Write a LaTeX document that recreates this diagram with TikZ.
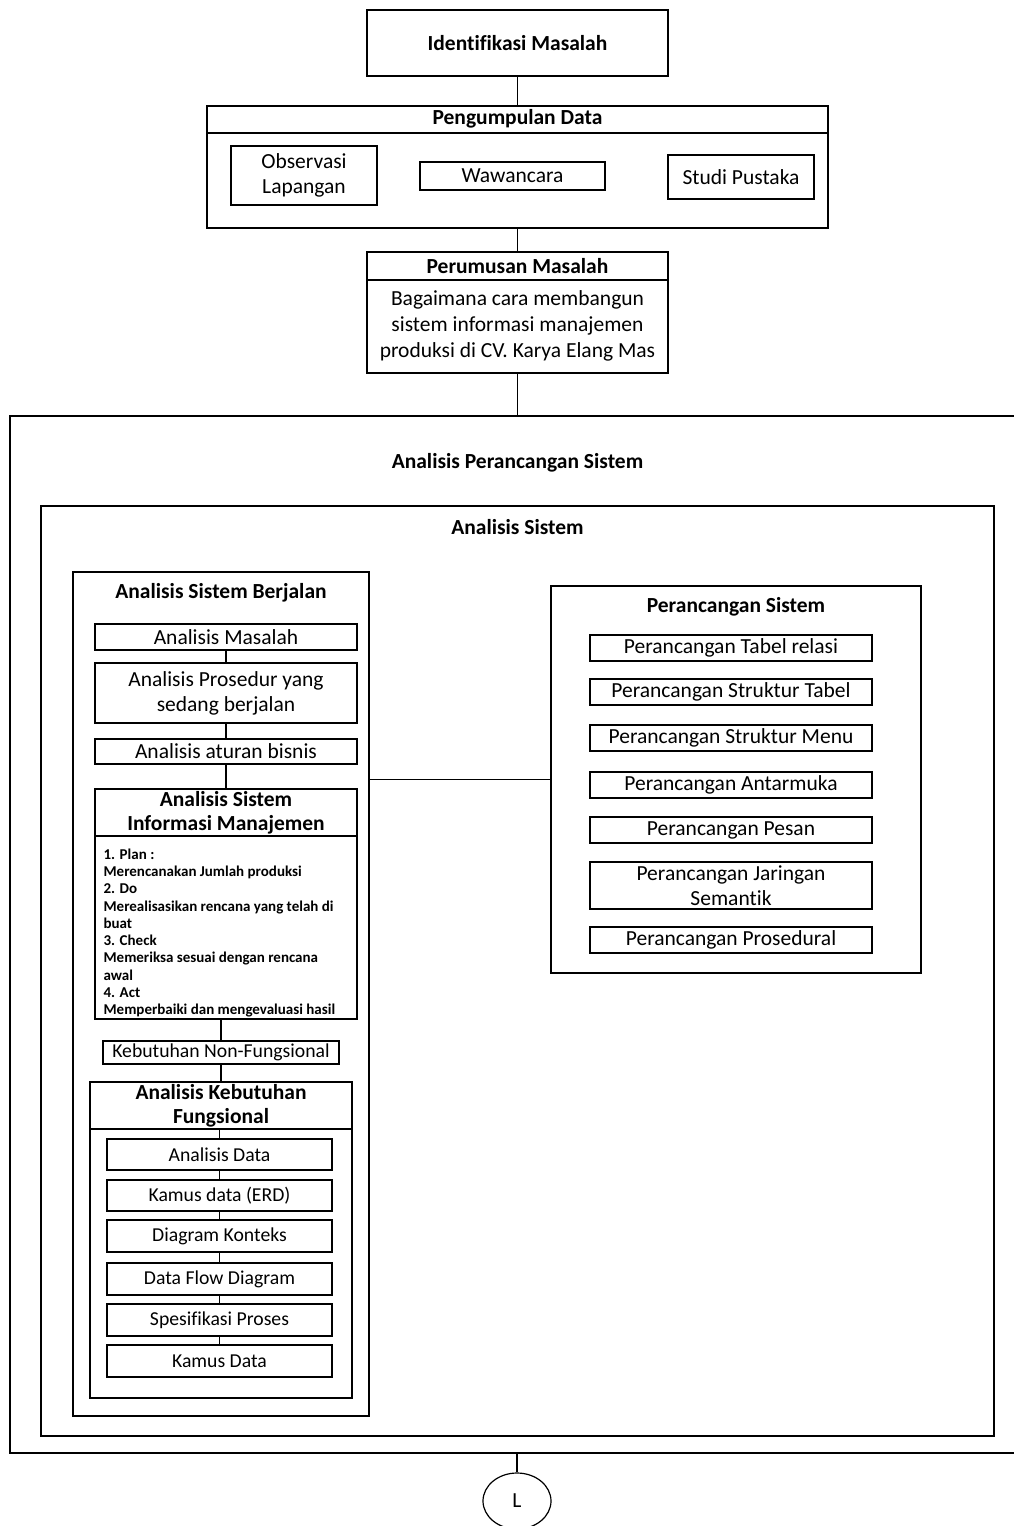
\documentclass[tikz,border=0pt]{standalone}
\usepackage{fontspec}
\setmainfont{Carlito}[Ligatures=CommonOff]
\usetikzlibrary{shapes.geometric}
\begin{document}
\begin{tikzpicture}[x=1pt,y=-1pt,
  every path/.style={line width=1.2pt},
  box/.style={draw, line width=1.2pt, inner sep=0pt, align=center, font=\fontsize{21.5}{25}\selectfont},
  sbox/.style={box, font=\fontsize{19.7}{24}\selectfont},
  ttl/.style={inner sep=0pt, align=center, font=\fontsize{21.5}{24.5}\selectfont\bfseries}]
\useasboundingbox (0,0) rectangle (1014,1526);
% top chain
\node[box, minimum width=301, minimum height=66, font=\fontsize{21.5}{24}\selectfont\bfseries] (idm) at (517.5,43) {Identifikasi Masalah};
\node[box, minimum width=621, minimum height=122] (pd) at (517.5,167) {};
\draw (pd.west |- 0,133) -- (pd.east |- 0,133);
\node[ttl] (pdt) at (517.5,119) {Pengumpulan Data};
\node[box, minimum width=146, minimum height=59] (obs) at (304,175.5) {Observasi\\Lapangan};
\node[box, minimum width=185, minimum height=28] (waw) at (512.5,176) {Wawancara};
\node[box, minimum width=146, minimum height=44] (stu) at (741,177) {Studi Pustaka};
\node[box, minimum width=301, minimum height=121] (pm) at (517.5,312.5) {};
\draw (pm.west |- 0,280) -- (pm.east |- 0,280);
\node[ttl] (pmt) at (517.5,266) {Perumusan Masalah};
\node[align=center, inner sep=0pt, font=\fontsize{21.5}{26}\selectfont] (pmb) at (517.5,326) {Bagaimana cara membangun\\sistem informasi manajemen\\produksi di CV. Karya Elang Mas};
% big containers
\node[box, minimum width=1020, minimum height=1037] (aps) at (520,934.5) {};
\node[ttl] (apst) at (517.5,463) {Analisis Perancangan Sistem};
\node[box, minimum width=953, minimum height=930] (as) at (517.5,971) {};
\node[ttl] (ast) at (517.5,527) {Analisis Sistem};
% Analisis Sistem Berjalan
\node[box, minimum width=296, minimum height=844] (asb) at (221,994) {};
\node[ttl] (asbt) at (221,593) {Analisis Sistem Berjalan};
\node[box, minimum width=262, minimum height=26] (am) at (226,637) {Analisis Masalah};
\node[box, minimum width=262, minimum height=60] (apr) at (226,693) {Analisis Prosedur yang\\sedang berjalan};
\node[box, minimum width=262, minimum height=25] (aab) at (226,751.5) {Analisis aturan bisnis};
\node[box, minimum width=262, minimum height=230] (sim) at (226,904) {};
\draw (sim.west |- 0,836) -- (sim.east |- 0,836);
\node[ttl] (simt) at (226,813) {Analisis Sistem\\Informasi Manajemen};
\node[anchor=north west, inner sep=0pt, align=left, font=\fontsize{15}{17.3}\selectfont\bfseries] (simb) at (103,848) {1. Plan :\\Merencanakan Jumlah produksi\\2. Do\\Merealisasikan rencana yang telah di\\buat\\3. Check\\Memeriksa sesuai dengan rencana\\awal\\4. Act\\Memperbaiki dan mengevaluasi hasil};
\node[sbox, minimum width=236, minimum height=23] (knf) at (221,1052.5) {Kebutuhan Non-Fungsional};
\node[box, minimum width=262, minimum height=316] (akf) at (221,1240) {};
\draw (akf.west |- 0,1129) -- (akf.east |- 0,1129);
\node[ttl] (akft) at (221,1106) {Analisis Kebutuhan\\Fungsional};
\node[sbox, minimum width=225, minimum height=31] (ad) at (219.5,1154.5) {Analisis Data};
\node[sbox, minimum width=225, minimum height=31] (kd) at (219.5,1195.5) {Kamus data (ERD)};
\node[sbox, minimum width=225, minimum height=32] (dk) at (219.5,1236) {Diagram Konteks};
\node[sbox, minimum width=225, minimum height=32] (dfd) at (219.5,1279) {Data Flow Diagram};
\node[sbox, minimum width=225, minimum height=32] (sp) at (219.5,1320) {Spesifikasi Proses};
\node[sbox, minimum width=225, minimum height=32] (kda) at (219.5,1361) {Kamus Data};
\coordinate (akfdiv) at (219.5,1129);
% Perancangan Sistem
\node[box, minimum width=370, minimum height=387] (ps) at (736,779.5) {};
\node[ttl] (pst) at (736,607) {Perancangan Sistem};
\node[box, minimum width=282, minimum height=26] (p1) at (731,648) {Perancangan Tabel relasi};
\node[box, minimum width=282, minimum height=26] (p2) at (731,692) {Perancangan Struktur Tabel};
\node[box, minimum width=282, minimum height=26] (p3) at (731,738) {Perancangan Struktur Menu};
\node[box, minimum width=282, minimum height=26] (p4) at (731,785) {Perancangan Antarmuka};
\node[box, minimum width=282, minimum height=26] (p5) at (731,830) {Perancangan Pesan};
\node[box, minimum width=282, minimum height=47] (p6) at (731,885.5) {Perancangan Jaringan\\Semantik};
\node[box, minimum width=282, minimum height=26] (p7) at (731,940) {Perancangan Prosedural};
% end connector
\node[draw, ellipse, line width=1.2pt, minimum width=68, minimum height=56, inner sep=0pt, font=\fontsize{21.5}{24}\selectfont] (L) at (517,1501) {L};
% connectors
\draw (idm.south) -- (pd.north);
\draw (pd.south) -- (pm.north);
\draw (pm.south) -- (pm.south |- aps.north);
\draw (L.north |- aps.south) -- (L.north);
\draw (am.south) -- (apr.north);
\draw (apr.south) -- (aab.north);
\draw (aab.south) -- (sim.north);
\draw (knf.north |- sim.south) -- (knf.north);
\draw (knf.south) -- (knf.south |- akf.north);
\draw (akfdiv) -- (ad.north);
\draw (ad.south) -- (kd.north);
\draw (kd.south) -- (dk.north);
\draw (dk.south) -- (dfd.north);
\draw (dfd.south) -- (sp.north);
\draw (sp.south) -- (kda.north);
\draw (asb.east |- ps.west) -- (ps.west);
\end{tikzpicture}
\end{document}
